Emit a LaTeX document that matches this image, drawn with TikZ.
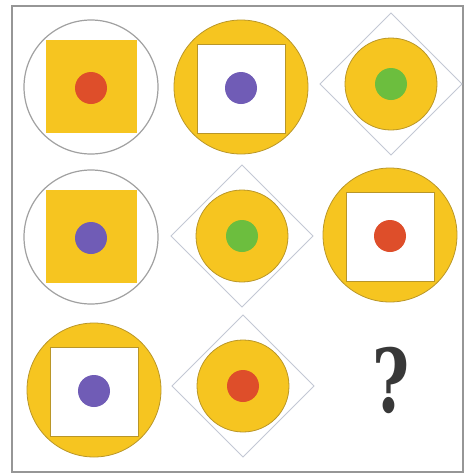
\documentclass[tikz,border=0pt]{standalone}
\usepackage{xcolor}
\usepackage{fontspec}
\usepackage{tikz}
\usetikzlibrary{calc}

\newfontfamily\hoifont{DejaVu Serif}

\definecolor{vang}{RGB}{246,197,32}
\definecolor{vangdam}{RGB}{185,150,40}
\definecolor{do}{RGB}{222,78,42}
\definecolor{tim}{RGB}{112,92,182}
\definecolor{xanh}{RGB}{108,190,62}
\definecolor{khung}{RGB}{150,150,150}
\definecolor{thoi}{RGB}{195,200,212}

\begin{document}
\begin{tikzpicture}[x=1pt, y=-1pt,
    tronxam/.style={draw=khung!90, line width=1.2pt},
    tronvang/.style={fill=vang, draw=vangdam, line width=0.8pt},
    vuongtrang/.style={fill=white, draw=vangdam, line width=0.7pt},
    hinhthoi/.style={draw=thoi, line width=1pt}]
    \useasboundingbox (0,0) rectangle (471,475);

    % 1. Khung ngoài
    \draw[khung, line width=1.6pt] (12,6) rectangle (463,472);

    % 2. Đường tròn viền xám, hình vuông vàng
    \foreach \x/\y/\c in {91/87/do, 91/237/tim} {
        \draw[tronxam] (\x,\y) circle (67);
        \fill[vang] (\x-45,\y-47) rectangle (\x+46,\y+46);
        \fill[\c] (\x,\y+1) circle (16);
    }

    % 3. Hình tròn vàng, hình vuông trắng
    \foreach \x/\y/\c in {241/87/tim, 390/235/do, 94/390/tim} {
        \filldraw[tronvang] (\x,\y) circle (67);
        \filldraw[vuongtrang] (\x-44,\y-43) rectangle (\x+44,\y+46);
        \fill[\c] (\x,\y+1) circle (16);
    }

    % 4. Hình thoi, hình tròn vàng nhỏ
    \foreach \x/\y/\c in {391/84/xanh, 242/236/xanh, 243/386/do} {
        \draw[hinhthoi] (\x-71,\y) -- (\x,\y-71) -- (\x+71,\y) -- (\x,\y+71) -- cycle;
        \filldraw[tronvang] (\x,\y) circle (46);
        \fill[\c] (\x,\y) circle (16);
    }

    % 5. Dấu hỏi
    \node[text=black!78, xscale=0.72, inner sep=0pt] (hoi) at (391,380)
        {\hoifont\bfseries\fontsize{88}{88}\selectfont ?};
\end{tikzpicture}
\end{document}
